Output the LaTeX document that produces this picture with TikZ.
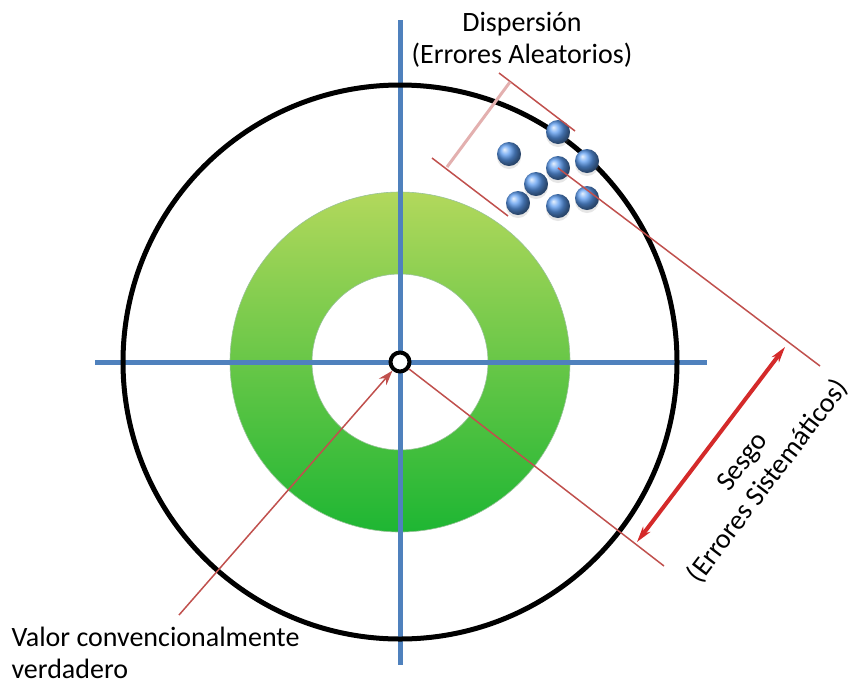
\documentclass[tikz,border=0pt]{standalone}
\usepackage{fontspec}
\setmainfont{Carlito}
\usepackage{xcolor}
\usetikzlibrary{positioning,arrows.meta,shadows}
\definecolor{axisblue}{HTML}{4F81BD}
\definecolor{linered}{HTML}{C0504D}
\definecolor{arrowred}{HTML}{D42A2A}
\definecolor{ringtop}{HTML}{B2D85C}
\definecolor{ringbot}{HTML}{1EB633}
\definecolor{dotblue}{HTML}{5C9CF0}

\begin{document}
\begin{tikzpicture}[x=1pt,y=-1pt,
    txt/.style={font=\fontsize{28}{32}\selectfont},
    thinred/.style={linered, line width=1.5pt},
    axis/.style={axisblue, line width=5pt},
    dot/.style={circle, minimum size=24pt, inner sep=0pt, shading=ball, ball color=dotblue,
        drop shadow={shadow xshift=0pt, shadow yshift=-3pt, opacity=0.2}}]
            \useasboundingbox (0,0) rectangle (854,689);

            \coordinate (c) at (400,362);
            \coordinate (axl) at (95,362);
            \coordinate (axr) at (707,362);
            \coordinate (axt) at (400,20);
            \coordinate (axb) at (400,665);

            % ring and axes
            \shade[even odd rule, top color=ringtop, bottom color=ringbot]
                (c) circle (170pt) (c) circle (88pt);
            \draw[green!40!black!40, line width=0.6pt] (c) circle (170pt) (c) circle (88pt);
            \draw[axis] (axl) -- (axr);
            \draw[axis] (axt) -- (axb);
            \draw[line width=5pt] (c) circle (277pt);
            \node[circle, draw, line width=4pt, fill=white, minimum size=19pt, inner sep=0pt] (cring) at (c){};

            % dots
            \node[dot] (d1) at (558,132){};
            \node[dot] (d2) at (509,154){};
            \node[dot] (d3) at (587,161){};
            \node[dot] (d4) at (558,168){};
            \node[dot] (d5) at (536,184){};
            \node[dot] (d6) at (518,203){};
            \node[dot] (d7) at (558,206){};
            \node[dot] (d8) at (587,198){};

            % dispersion
            \coordinate (da1) at (499,73);
            \coordinate (da2) at (575,131);
            \coordinate (db1) at (432,158);
            \coordinate (db2) at (508,216);
            \coordinate (dc1) at (510,82);
            \coordinate (dc2) at (447,167);
            \draw[thinred] (da1) -- (da2);
            \draw[thinred] (db1) -- (db2);
            \draw[linered!45, line width=3pt] (dc1) -- (dc2);
            \node[txt, align=center] (disp) at (522,40){Dispersión\\(Errores Aleatorios)};

            % bias
            \coordinate (su) at (820,366);
            \coordinate (sl) at (664,566);
            \coordinate (sa1) at (785,347);
            \coordinate (sa2) at (637,542);
            \draw[thinred] (d4.center) -- (su);
            \draw[thinred] (cring) -- (sl);
            \draw[arrowred, line width=4pt, {Stealth[length=16pt,width=9pt]}-{Stealth[length=16pt,width=9pt]}] (sa1) -- (sa2);
            \node[txt, align=center, rotate=52.8] (sesgo) at (756,472){Sesgo\\(Errores Sistemáticos)};

            % true value
            \node[txt, align=left, anchor=north west] (valor) at (8,624){Valor convencionalmente\\verdadero};
            \coordinate (vl) at (179,615);
            \draw[thinred, -{Stealth[length=15pt,width=10pt,inset=5pt]}] (vl) -- (cring);
        \end{tikzpicture}
\end{document}
